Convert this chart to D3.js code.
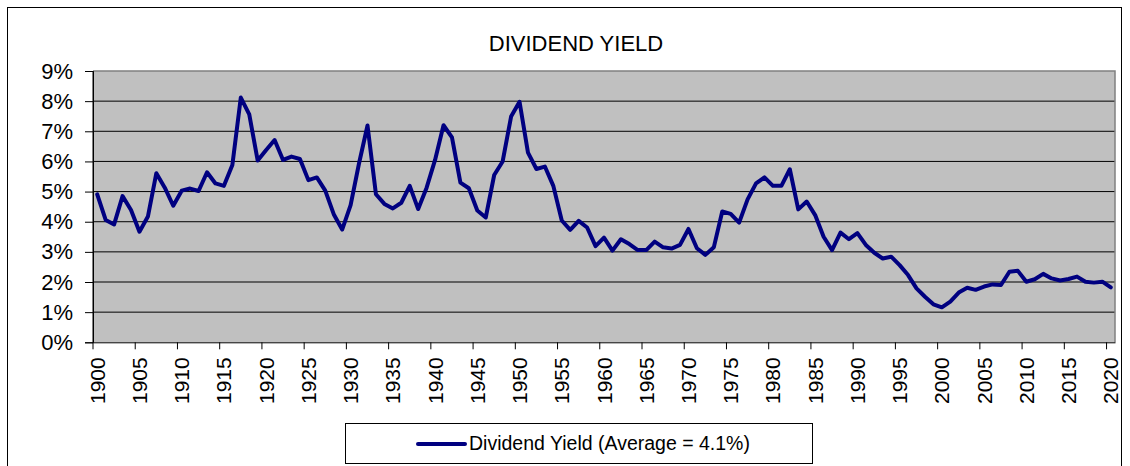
<!DOCTYPE html>
<html>
<head>
<meta charset="utf-8">
<script src="https://cdn.jsdelivr.net/npm/d3@7"></script>
<style>
  html, body { margin: 0; padding: 0; background: #fff; }
  svg { display: block; font-family: "Liberation Sans", Arial, sans-serif; }
</style>
</head>
<body>
<svg id="chart" width="1130" height="466"></svg>
<script>
// ---- data ----
const title = "DIVIDEND YIELD";
const seriesName = "Dividend Yield (Average = 4.1%)";
const years = d3.range(1900, 2021);
const dividendYield = [
  4.91, 4.06, 3.91, 4.85, 4.39, 3.67, 4.17, 5.61, 5.13, 4.53,
  5.03, 5.10, 5.02, 5.64, 5.27, 5.19, 5.88, 8.12, 7.56, 6.03,
  6.38, 6.71, 6.05, 6.16, 6.08, 5.38, 5.47, 5.03, 4.25, 3.74,
  4.55, 5.94, 7.19, 4.91, 4.59, 4.44, 4.63, 5.19, 4.42, 5.13,
  6.05, 7.20, 6.80, 5.30, 5.11, 4.37, 4.14, 5.55, 6.00, 7.49,
  7.98, 6.29, 5.75, 5.83, 5.19, 4.04, 3.73, 4.03, 3.81, 3.19,
  3.47, 3.04, 3.42, 3.26, 3.06, 3.06, 3.34, 3.15, 3.11, 3.23,
  3.76, 3.12, 2.90, 3.15, 4.34, 4.26, 3.97, 4.74, 5.27, 5.47,
  5.19, 5.19, 5.74, 4.41, 4.67, 4.22, 3.50, 3.06, 3.64, 3.42,
  3.62, 3.23, 2.97, 2.78, 2.84, 2.56, 2.23, 1.79, 1.51, 1.26,
  1.16, 1.35, 1.65, 1.81, 1.74, 1.85, 1.92, 1.90, 2.34, 2.37,
  2.01, 2.09, 2.27, 2.12, 2.05, 2.10, 2.18, 2.01, 1.98, 2.01,
  1.82
];
const yTicks = [0, 1, 2, 3, 4, 5, 6, 7, 8, 9];
const xTickYears = d3.range(1900, 2021, 5);

// ---- layout ----
const svg = d3.select("#chart");
const plot = { left: 93, right: 1115, top: 71, bottom: 342.3 };

const x = d3.scaleBand().domain(years).range([plot.left, plot.right]).paddingInner(0).paddingOuter(0);
const y = d3.scaleLinear().domain([0, 9]).range([plot.bottom, plot.top]);
const xc = yr => x(yr) + x.bandwidth() / 2;

// outer border
svg.append("rect")
  .attr("x", 7.5).attr("y", 7.5)
  .attr("width", 1114).attr("height", 470)
  .attr("fill", "#fff").attr("stroke", "#000").attr("stroke-width", 1);

// title
svg.append("text")
  .attr("x", 576).attr("y", 51)
  .attr("text-anchor", "middle")
  .attr("font-size", 22)
  .attr("fill", "#000")
  .text(title);

// plot background
svg.append("rect")
  .attr("x", plot.left).attr("y", plot.top)
  .attr("width", plot.right - plot.left).attr("height", plot.bottom - plot.top)
  .attr("fill", "#c0c0c0");

// gridlines
svg.append("g").selectAll("line")
  .data(yTicks.filter(d => d > 0 && d < 9))
  .join("line")
  .attr("x1", plot.left).attr("x2", plot.right)
  .attr("y1", d => y(d)).attr("y2", d => y(d))
  .attr("stroke", "#000").attr("stroke-width", 1);

// plot top & right border (gray)
svg.append("path")
  .attr("d", `M${plot.left},${plot.top}H${plot.right}V${plot.bottom}`)
  .attr("fill", "none").attr("stroke", "#808080").attr("stroke-width", 1.5);

// y axis
const yAxis = svg.append("g")
  .attr("transform", `translate(${plot.left},0)`)
  .call(d3.axisLeft(y).tickValues(yTicks).tickFormat(d => d + "%").tickSize(8).tickPadding(12));
yAxis.select(".domain").attr("stroke", "#000");
yAxis.selectAll(".tick line").attr("stroke", "#000");
yAxis.selectAll("text")
  .attr("font-size", 22)
  .attr("font-family", "\"Liberation Sans\", Arial, sans-serif")
  .attr("fill", "#000");

// x axis labels (centered in categories)
const xAxis = svg.append("g")
  .attr("transform", `translate(0,${plot.bottom})`)
  .call(d3.axisBottom(x).tickValues(xTickYears).tickSize(0).tickSizeOuter(0));
xAxis.select(".domain").attr("stroke", "#000");
xAxis.selectAll(".tick text")
  .attr("font-size", 21)
  .attr("font-family", "\"Liberation Sans\", Arial, sans-serif")
  .attr("fill", "#000")
  .attr("text-anchor", "end")
  .attr("transform", "rotate(-90)")
  .attr("x", -15)
  .attr("y", 0)
  .attr("dy", "0.36em");

// x tick marks at category boundaries
svg.append("g").selectAll("line")
  .data(xTickYears)
  .join("line")
  .attr("x1", d => x(d)).attr("x2", d => x(d))
  .attr("y1", plot.bottom).attr("y2", plot.bottom + 7)
  .attr("stroke", "#000").attr("stroke-width", 1);

// left axis line on top
svg.append("line")
  .attr("x1", plot.left).attr("x2", plot.left)
  .attr("y1", plot.top).attr("y2", plot.bottom)
  .attr("stroke", "#000").attr("stroke-width", 1);

// series line
const line = d3.line()
  .x((d, i) => xc(years[i]))
  .y(d => y(d));
svg.append("path")
  .datum(dividendYield)
  .attr("d", line)
  .attr("fill", "none")
  .attr("stroke", "#000080")
  .attr("stroke-width", 4)
  .attr("stroke-linejoin", "round")
  .attr("stroke-linecap", "round");

// legend
const lg = svg.append("g");
lg.append("rect")
  .attr("x", 345.5).attr("y", 423.5)
  .attr("width", 467).attr("height", 40)
  .attr("fill", "#fff").attr("stroke", "#000").attr("stroke-width", 1);
lg.append("line")
  .attr("x1", 418).attr("x2", 465)
  .attr("y1", 444).attr("y2", 444)
  .attr("stroke", "#000080").attr("stroke-width", 4).attr("stroke-linecap", "round");
lg.append("text")
  .attr("x", 469).attr("y", 450)
  .attr("font-size", 19.5)
  .attr("fill", "#000")
  .text(seriesName);
</script>
</body>
</html>
